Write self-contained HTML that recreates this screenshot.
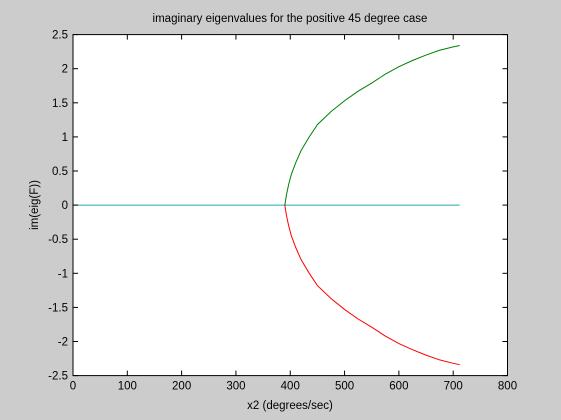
<!DOCTYPE html>
<html><head><meta charset="utf-8"><style>
html,body{margin:0;padding:0;background:#cccccc;}
svg{display:block;font-family:"Liberation Sans",sans-serif;}
</style></head><body>
<svg id="chart" width="561" height="420">
<rect x="0" y="0" width="561" height="420" fill="#cccccc"/>
<rect x="73" y="34.6" width="434.5" height="341" fill="#ffffff"/>
<g id="marks"></g>
<rect x="73" y="34.6" width="434.5" height="341" fill="none" stroke="#000" stroke-width="1"/>
<g id="ticks"></g>
<text x="290" y="22" font-size="11.5" text-anchor="middle">imaginary eigenvalues for the positive 45 degree case</text>
<text x="290" y="409" font-size="11.5" text-anchor="middle">x2 (degrees/sec)</text>
<text x="0" y="0" font-size="11.5" text-anchor="middle" transform="translate(38,205) rotate(-90)">im(eig(F))</text>
</svg>
<script>
const xTicks=[0,100,200,300,400,500,600,700,800];
const yTicks=[-2.5,-2,-1.5,-1,-0.5,0,0.5,1,1.5,2,2.5];
const xVals=[390,393,397,402,410,420,435,450,475,500,525,550,575,600,625,650,675,700,712];
const posVals=[0,0.15,0.3,0.45,0.62,0.8,1.0,1.18,1.37,1.53,1.67,1.79,1.92,2.03,2.12,2.2,2.27,2.32,2.34];
const zeroX=[0,712];
const L=73,R=507.5,T=34.6,B=375.6;
const NS="http://www.w3.org/2000/svg";
const sx=v=>L+(v-0)/(800-0)*(R-L);
const sy=v=>T+(2.5-v)/5*(B-T);
const marks=document.getElementById('marks'),ticks=document.getElementById('ticks');
function el(tag,attrs,parent){const e=document.createElementNS(NS,tag);for(const k in attrs)e.setAttribute(k,attrs[k]);parent.appendChild(e);return e;}
const z=el('line',{x1:sx(zeroX[0]),y1:sy(0),x2:sx(zeroX[1]),y2:sy(0),stroke:'#20a8b0','stroke-width':1},marks);


const g=el('polyline',{points:xVals.map((x,i)=>sx(x)+','+sy(posVals[i])).join(' '),fill:'none',stroke:'#008000','stroke-width':1},marks);


const r=el('polyline',{points:xVals.map((x,i)=>sx(x)+','+sy(-posVals[i])).join(' '),fill:'none',stroke:'#ff0000','stroke-width':1},marks);


xTicks.forEach(v=>{const x=sx(v);
 el('line',{x1:x,y1:B,x2:x,y2:B-5,stroke:'#000'},ticks);
 el('line',{x1:x,y1:T,x2:x,y2:T+5,stroke:'#000'},ticks);
 const t=el('text',{x:x,y:B+14,'font-size':11.5,'text-anchor':'middle'},ticks);t.textContent=v;
 
 });
yTicks.forEach(v=>{const y=sy(v);
 el('line',{x1:L,y1:y,x2:L+5,y2:y,stroke:'#000'},ticks);
 el('line',{x1:R,y1:y,x2:R-5,y2:y,stroke:'#000'},ticks);
 const t=el('text',{x:L-5,y:y+4,'font-size':11.5,'text-anchor':'end'},ticks);t.textContent=v;
 
 });
</script>
</body></html>
